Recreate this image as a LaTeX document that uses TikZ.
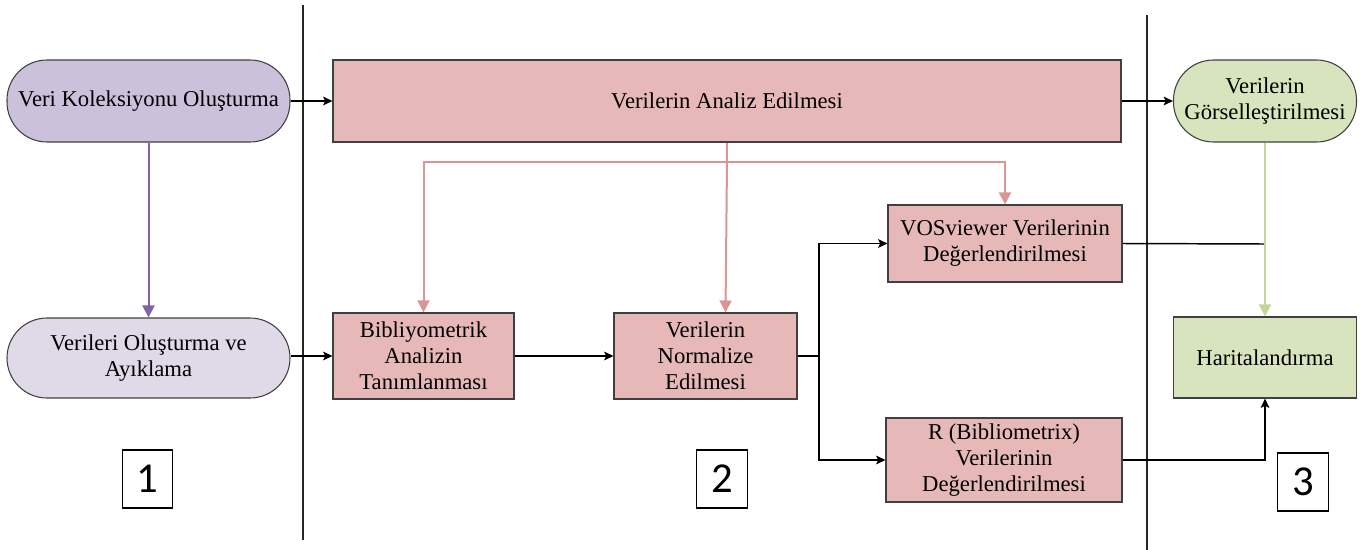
\documentclass[tikz,border=0pt]{standalone}
\usepackage{fontspec}
\setmainfont{Liberation Serif}
\newfontfamily\numfont{Carlito}
\usetikzlibrary{arrows.meta,calc}
\definecolor{purpA}{HTML}{CCC1DA}
\definecolor{purpB}{HTML}{DFD9E8}
\definecolor{pinkF}{HTML}{E6B9B8}
\definecolor{greenF}{HTML}{D7E4BD}
\definecolor{purpL}{HTML}{8064A2}
\definecolor{pinkL}{HTML}{D99694}
\definecolor{greenL}{HTML}{C3D69B}
\definecolor{edgeC}{HTML}{404040}
\tikzset{
  txt/.style={font=\fontsize{17pt}{19.5pt}\selectfont, align=center, inner sep=0pt, draw=edgeC, line width=0.8pt},
  stadium/.style={txt, rounded corners=30pt},
  pbox/.style={txt, fill=pinkF},
  numbox/.style={draw=black, line width=0.9pt, inner sep=0pt, minimum width=38pt, minimum height=43.5pt, font=\numfont\fontsize{32pt}{36pt}\selectfont},
  blk/.style={line width=1.1pt, draw=black},
  blkarr/.style={blk, -{Stealth[length=7pt,width=6.5pt,inset=1.5pt]}},
  colarr/.style={line width=1.5pt, -{Triangle[length=9pt,width=9pt]}},
  sep/.style={line width=1.1pt, draw=black!85}
}
\begin{document}
\begin{tikzpicture}[x=0.75pt,y=-0.75pt]
\useasboundingbox (0,0) rectangle (1368,550);
% separators
\draw[sep] (303,5) -- (303,540);
\draw[sep] (1147,15) -- (1147,550);
% nodes
\node[stadium, fill=purpA, minimum width=212.25pt, minimum height=61.5pt] (vk) at (148.5,101) {Veri Koleksiyonu Oluşturma};
\node[stadium, fill=purpB, minimum width=212.25pt, minimum height=60pt] (vo) at (148.5,358) {Verileri Oluşturma ve\\Ayıklama};
\node[pbox, minimum width=591pt, minimum height=61.5pt] (an) at (727,101) {Verilerin Analiz Edilmesi};
\node[stadium, fill=greenF, minimum width=137.25pt, minimum height=61.5pt] (vg) at (1265,101) {Verilerin\\Görselleştirilmesi};
\node[pbox, minimum width=135.75pt, minimum height=64.5pt] (bt) at (423.5,356) {Bibliyometrik\\Analizin\\Tanımlanması};
\node[pbox, minimum width=137.25pt, minimum height=64.5pt] (nm) at (705.5,356) {Verilerin\\Normalize\\Edilmesi};
\node[pbox, minimum width=175.5pt, minimum height=57.75pt] (vos) at (1005,243.5) {VOSviewer Verilerinin\\Değerlendirilmesi};
\node[pbox, minimum width=177pt, minimum height=63pt] (rb) at (1004,460) {R (Bibliometrix)\\Verilerinin\\Değerlendirilmesi};
\node[txt, fill=greenF, minimum width=137.25pt, minimum height=60.75pt] (ha) at (1265,357.5) {Haritalandırma};
\node[numbox] (n1) at (147.5,479) {1};
\node[numbox] (n2) at (722,479) {2};
\node[numbox] (n3) at (1303,482) {3};
% coordinates
\coordinate (pj) at (727,162);
\coordinate (br) at (819,356);
\coordinate (gj) at (1265,244);
% connectors
\draw[colarr, purpL] (vk.south) -- (vo.north);
\draw[blkarr] (vk.east) -- (an.west);
\draw[blkarr] (an.east) -- (vg.west);
\draw[blkarr] (bt.west -| vo.east) -- (bt.west);
\draw[blkarr] (bt.east) -- (nm.west);
\draw[line width=1.5pt, pinkL] (an.south) -- (pj);
\draw[colarr, pinkL] (pj) -- ([xshift=15pt]nm.north);
\draw[colarr, pinkL] (pj) -| (bt.north);
\draw[colarr, pinkL] (pj) -| (vos.north);
\draw[blk] (nm.east) -- (br);
\draw[blkarr] (br) |- (vos.west);
\draw[blkarr] (br) |- (rb.west);
\draw[blk] (vos.east) -- (gj);
\draw[colarr, greenL] (vg.south) -- (ha.north);
\draw[blkarr] (rb.east) -| (ha.south);
\end{tikzpicture}
\end{document}
